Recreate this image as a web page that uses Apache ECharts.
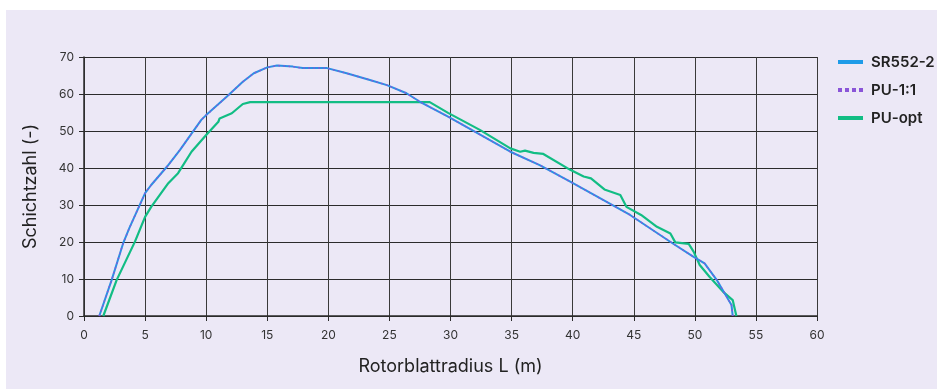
<!DOCTYPE html>
<html>
<head>
<meta charset="utf-8">
<script src="https://cdn.jsdelivr.net/npm/echarts@6/dist/echarts.min.js"></script>
<style>
  html, body { margin: 0; padding: 0; background: #fff; }
  #bg { position: absolute; left: 6px; top: 10px; width: 931px; height: 379px; background: #ECE8F6; }
  #main { position: absolute; left: 0; top: 0; width: 937px; height: 391px; }
</style>
</head>
<body>
<div id="bg"></div>
<div id="main"></div>
<script>
// Rotorblattradius L (m) / Schichtzahl (-)
var sr552 = [
  [1.25, 0], [2.26, 9.7], [3.2, 19.6], [3.7, 23.7], [5.0, 33.2], [5.5, 35.4],
  [6.8, 40.4], [7.86, 44.9], [9.6, 53.0], [10.0, 54.3], [11.7, 59.3], [13.0, 63.3],
  [13.9, 65.6], [15.0, 67.2], [15.8, 67.7], [17.1, 67.4], [17.9, 67.0], [19.9, 67.0],
  [21.5, 65.6], [23.4, 63.8], [24.8, 62.4], [26.4, 60.2], [27.5, 57.9], [29.8, 53.9],
  [34.9, 44.4], [37.3, 40.8], [39.8, 36.3], [44.7, 27.3], [48.2, 19.6], [49.9, 16.0],
  [50.8, 14.2], [51.8, 9.7], [53.0, 3.0], [53.1, 0]
];
var pu11 = sr552.slice();
var puOpt = [
  [1.58, 0], [2.67, 9.7], [4.17, 20.1], [5.0, 26.8], [5.5, 29.5], [6.9, 35.9],
  [7.7, 38.6], [8.8, 44.4], [10.0, 48.9], [11.0, 52.5], [11.1, 53.4], [12.1, 54.8],
  [13.0, 57.3], [13.6, 57.8], [20.0, 57.8], [28.3, 57.8], [29.8, 54.9], [32.4, 50.3],
  [34.9, 45.3], [35.7, 44.4], [36.1, 44.7], [36.8, 44.1], [37.6, 43.8], [39.8, 39.5],
  [40.9, 37.7], [41.5, 37.2], [42.6, 34.2], [43.9, 32.7], [44.4, 29.5], [45.6, 27.3],
  [46.9, 24.1], [48.0, 22.3], [48.4, 19.9], [49.5, 19.5], [49.9, 17.4], [50.4, 13.8],
  [51.2, 10.6], [52.3, 6.6], [53.1, 4.3], [53.4, 0]
];
var names = ['SR552-2', 'PU-1:1', 'PU-opt'];

var dotsIcon = 'path://M0,0h4v4h-4z M7,0h4v4h-4z M14,0h4v4h-4z M21,0h4v4h-4z';

var chart = echarts.init(document.getElementById('main'));
var lineCol = '#2b2b2b';
chart.setOption({
  animation: false,
  textStyle: { fontFamily: 'Inter, "Noto Sans", sans-serif' },
  grid: { left: 84, right: 120, top: 57, bottom: 75 },
  legend: {
    orient: 'vertical', left: 833, top: 48, itemGap: 10,
    itemWidth: 25, itemHeight: 4,
    data: [
      { name: names[0], icon: 'rect' },
      { name: names[1], icon: dotsIcon },
      { name: names[2], icon: 'rect' }
    ],
    textStyle: { fontSize: 15, fontWeight: 600, color: '#222', padding: [0, 0, 0, 3], lineHeight: 18 }
  },
  xAxis: {
    type: 'value', min: 0, max: 60, interval: 5,
    name: 'Rotorblattradius L (m)', nameLocation: 'middle', nameGap: 42,
    nameTextStyle: { fontSize: 18, color: '#222' },
    axisLine: { show: true, lineStyle: { color: lineCol, width: 1.5 } },
    axisTick: { show: true, length: 5, lineStyle: { color: lineCol } },
    axisLabel: { fontSize: 12, color: '#333', margin: 13 },
    splitLine: { show: true, lineStyle: { color: '#3a3a3a', width: 1 } }
  },
  yAxis: {
    type: 'value', min: 0, max: 70, interval: 10,
    name: 'Schichtzahl (-)', nameLocation: 'middle', nameGap: 44,
    nameTextStyle: { fontSize: 18, color: '#222' },
    axisLine: { show: true, lineStyle: { color: lineCol, width: 1.5 } },
    axisTick: { show: true, length: 5, lineStyle: { color: lineCol } },
    axisLabel: { fontSize: 12, color: '#333', margin: 10 },
    splitLine: { show: true, lineStyle: { color: '#2b2b2b', width: 1 } }
  },
  series: [
    {
      name: names[0], type: 'line', data: sr552, symbol: 'none', z: 3,
      lineStyle: { color: '#2D8FE3', width: 2 }, itemStyle: { color: '#1E9BE8' }
    },
    {
      name: names[1], type: 'line', data: pu11, symbol: 'none', z: 4,
      lineStyle: { color: '#8A55D8', width: 1.5, type: [1.5, 3.5] }, itemStyle: { color: '#8A55D8' }
    },
    {
      name: names[2], type: 'line', data: puOpt, symbol: 'none', z: 2,
      lineStyle: { color: '#12BD84', width: 2.2 }, itemStyle: { color: '#12BD84' }
    }
  ]
});
</script>
</body>
</html>
